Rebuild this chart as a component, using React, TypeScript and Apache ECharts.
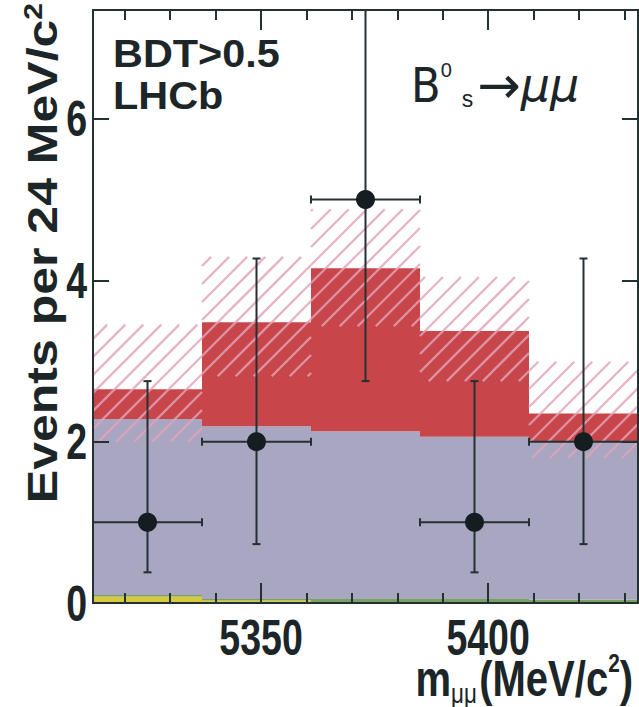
import React, { useEffect, useRef } from 'react';
import * as echarts from 'echarts';

// ---- data ----
const binLow = [5313, 5337, 5361, 5385, 5409];
const binHigh = [5337, 5361, 5385, 5409, 5433];
const binCenter = [5325, 5349, 5373, 5397, 5421];
const observed = [1, 2, 5, 1, 2];
const observedLow = [0.38, 0.73, 2.75, 0.38, 0.73];
const observedHigh = [2.75, 4.27, 7.6, 2.75, 4.27];
const peakingBkg = [0.08, 0.03, 0, 0, 0];
const misIdBkg = [0.02, 0.02, 0.05, 0.05, 0.04];
const combBkg = [2.18, 2.14, 2.08, 2.01, 1.96];
const signalExp = [0.37, 1.29, 2.02, 1.31, 0.35];
const bandLow = [2.0, 2.81, 3.43, 2.75, 1.8];
const bandHigh = [3.45, 4.29, 4.88, 4.04, 2.99];
const xTickLabels = [5350, 5400];
const yTickLabels = [0, 2, 4, 6];
const xMin = 5313;
const xMax = 5433;
const yMax = 7.35;
const yTickInterval = 2;

// ---- styles ----
const FRAME = '#243032';
const TEXT = '#1c2527';
const C_YELLOW = '#d6c93c';
const C_GREEN = '#78a262';
const C_PURPLE = '#a8a6c0';
const C_RED = '#c8464a';
const C_HATCH = 'rgba(226,164,184,0.82)';
const SANS = "'Liberation Sans', Arial, sans-serif";
const LABEL_FONT = `bold 50px ${SANS}`;
const LABEL_SCALE = 0.75;

export default function App() {
  const ref = useRef<HTMLDivElement>(null);
  useEffect(() => {
    if (!ref.current) return;
    const chart = echarts.init(ref.current, null, { renderer: 'svg' });

    const axisLineStyle = { color: FRAME, width: 2 };
    const xAxisBase = {
      type: 'value',
      min: xMin,
      max: xMax,
      splitNumber: 3,
      z: 3,
      axisLine: { show: true, onZero: false, lineStyle: axisLineStyle },
      axisTick: { show: true, inside: true, length: 20, lineStyle: axisLineStyle },
      minorTick: { show: true, splitNumber: 5, length: 10, lineStyle: axisLineStyle },
      splitLine: { show: false },
      minorSplitLine: { show: false },
      axisLabel: { show: false },
    };
    const yAxisBase = {
      type: 'value',
      min: 0,
      max: yMax,
      interval: yTickInterval,
      z: 3,
      axisLine: { show: true, onZero: false, lineStyle: axisLineStyle },
      axisTick: { show: true, inside: true, length: 16, lineStyle: axisLineStyle },
      minorTick: { show: false },
      splitLine: { show: false },
      axisLabel: { show: false },
    };

    const stackData = binLow.map((_, i) => [
      binLow[i], binHigh[i], peakingBkg[i], misIdBkg[i], combBkg[i], signalExp[i],
    ]);
    const bandData = binLow.map((_, i) => [binLow[i], binHigh[i], bandLow[i], bandHigh[i]]);
    const errData = binCenter.map((_, i) => [
      binCenter[i], observed[i], observedLow[i], observedHigh[i], binLow[i], binHigh[i],
    ]);
    const pointData = binCenter.map((c, i) => [c, observed[i]]);

    const option = {
      animation: false,
      backgroundColor: '#ffffff',
      grid: { left: 93, right: 1, top: 10, bottom: 104, outerBoundsMode: 'none' },
      xAxis: [
        { ...xAxisBase, position: 'bottom' },
        { ...xAxisBase, position: 'top' },
      ],
      yAxis: [
        { ...yAxisBase, position: 'left' },
        { ...yAxisBase, position: 'right' },
      ],
      series: [
        {
          type: 'custom',
          name: 'stack',
          z: 1,
          clip: true,
          data: stackData,
          encode: { x: [0, 1], y: [2] },
          renderItem: (params: any, api: any) => {
            const xa = api.coord([api.value(0), 0])[0];
            const xb = api.coord([api.value(1), 0])[0];
            const parts = [api.value(2), api.value(3), api.value(4), api.value(5)];
            const cols = [C_YELLOW, C_GREEN, C_PURPLE, C_RED];
            const children: any[] = [];
            let base = 0;
            for (let k = 0; k < parts.length; k++) {
              const top = base + parts[k];
              if (parts[k] > 0) {
                const y0 = api.coord([0, base])[1];
                const y1 = api.coord([0, top])[1];
                children.push({
                  type: 'rect',
                  shape: { x: xa, y: y1, width: xb - xa, height: y0 - y1 },
                  style: { fill: cols[k] },
                });
              }
              base = top;
            }
            return { type: 'group', children };
          },
        },
        {
          type: 'custom',
          name: 'uncertainty',
          z: 2,
          clip: true,
          data: bandData,
          encode: { x: [0, 1], y: [2, 3] },
          renderItem: (params: any, api: any) => {
            const x0 = api.coord([api.value(0), 0])[0];
            const x1 = api.coord([api.value(1), 0])[0];
            const yB = api.coord([0, api.value(2)])[1];
            const yT = api.coord([0, api.value(3)])[1];
            const step = 18;
            const children: any[] = [];
            const cStart = Math.ceil((x0 + yT) / step) * step;
            for (let c = cStart; c <= x1 + yB; c += step) {
              const xa = Math.max(x0, c - yB);
              const xb = Math.min(x1, c - yT);
              if (xb > xa + 0.5) {
                children.push({
                  type: 'line',
                  shape: { x1: xa, y1: c - xa, x2: xb, y2: c - xb },
                  style: { stroke: C_HATCH, lineWidth: 2.3 },
                });
              }
            }
            return { type: 'group', children };
          },
        },
        {
          type: 'custom',
          name: 'errors',
          z: 4,
          clip: true,
          data: errData,
          encode: { x: [0, 4, 5], y: [1, 2, 3] },
          renderItem: (params: any, api: any) => {
            const c = api.coord([api.value(0), api.value(1)]);
            const lo = api.coord([api.value(0), api.value(2)]);
            const hi = api.coord([api.value(0), api.value(3)]);
            const le = api.coord([api.value(4), api.value(1)]);
            const re = api.coord([api.value(5), api.value(1)]);
            const st = { stroke: FRAME, lineWidth: 2 };
            const cap = 4;
            return {
              type: 'group',
              children: [
                { type: 'line', shape: { x1: c[0], y1: lo[1], x2: c[0], y2: hi[1] }, style: st },
                { type: 'line', shape: { x1: le[0], y1: c[1], x2: re[0], y2: c[1] }, style: st },
                { type: 'line', shape: { x1: c[0] - cap, y1: lo[1], x2: c[0] + cap, y2: lo[1] }, style: st },
                { type: 'line', shape: { x1: c[0] - cap, y1: hi[1], x2: c[0] + cap, y2: hi[1] }, style: st },
                { type: 'line', shape: { x1: le[0], y1: c[1] - cap, x2: le[0], y2: c[1] + cap }, style: st },
                { type: 'line', shape: { x1: re[0], y1: c[1] - cap, x2: re[0], y2: c[1] + cap }, style: st },
              ],
            };
          },
        },
        {
          type: 'scatter',
          name: 'data',
          z: 5,
          symbol: 'circle',
          symbolSize: 19,
          itemStyle: { color: '#141e20', opacity: 1 },
          data: pointData,
        },
      ],
    };

    chart.setOption(option as any);

    // tick labels placed through the axes' own scales
    const xLabelY = 637;
    const tickTexts: any[] = [];
    xTickLabels.forEach((v) => {
      const px = chart.convertToPixel({ xAxisIndex: 0 }, v) as number;
      tickTexts.push({
        type: 'text',
        x: px,
        y: xLabelY,
        scaleX: LABEL_SCALE,
        z: 10,
        style: {
          text: String(v),
          fill: TEXT,
          font: LABEL_FONT,
          lineHeight: 34,
          align: 'center',
          verticalAlign: 'middle',
          textAlign: 'center',
          textVerticalAlign: 'middle',
        },
      });
    });
    yTickLabels.forEach((v) => {
      const py = chart.convertToPixel({ yAxisIndex: 0 }, v) as number;
      tickTexts.push({
        type: 'text',
        x: 87,
        y: py,
        scaleX: LABEL_SCALE,
        z: 10,
        style: {
          text: String(v),
          fill: TEXT,
          font: LABEL_FONT,
          lineHeight: 34,
          align: 'right',
          verticalAlign: 'middle',
          textAlign: 'right',
          textVerticalAlign: 'middle',
        },
      });
    });

    const graphic = [
      ...tickTexts,
      {
        type: 'text',
        x: 113,
        y: 74.5,
        z: 10,
        scaleX: 1.09,
        style: {
          text: 'BDT>0.5\nLHCb',
          fill: TEXT,
          font: `bold 38px ${SANS}`,
          lineHeight: 42.5,
          align: 'left',
          verticalAlign: 'middle',
          textAlign: 'left',
          textVerticalAlign: 'middle',
        },
      },
      {
        type: 'text',
        x: 411,
        y: 60,
        z: 10,
        style: {
          text: '{b|B}{sup|0}{sub|s}{arr|→}{mu|μμ}',
          fill: TEXT,
          align: 'left',
          verticalAlign: 'top',
          textAlign: 'left',
          textVerticalAlign: 'top',
          rich: {
            b: { fontFamily: "'DejaVu Sans Condensed', 'DejaVu Sans', sans-serif", fontSize: 48, lineHeight: 50, fill: TEXT },
            sup: { fontFamily: SANS, fontSize: 20, lineHeight: 22, verticalAlign: 'top', fill: TEXT },
            sub: { fontFamily: SANS, fontSize: 23, lineHeight: 22, verticalAlign: 'bottom', padding: [0, 4, 0, 10], fill: TEXT },
            arr: { fontFamily: "'DejaVu Sans', sans-serif", fontSize: 52, lineHeight: 50, fill: TEXT },
            mu: { fontFamily: "'DejaVu Sans', sans-serif", fontStyle: 'italic', fontSize: 46, lineHeight: 50, fill: TEXT },
          },
        },
      },
      {
        type: 'text',
        x: 633,
        y: 653,
        z: 10,
        scaleX: 0.8,
        style: {
          text: '{a|m}{sub|μμ}{a|(MeV/c}{sup|2}{a|)}',
          fill: TEXT,
          align: 'right',
          verticalAlign: 'top',
          textAlign: 'right',
          textVerticalAlign: 'top',
          rich: {
            a: { fontFamily: SANS, fontWeight: 'bold', fontSize: 50, lineHeight: 52, fill: TEXT },
            sub: { fontFamily: SANS, fontSize: 28, lineHeight: 4, verticalAlign: 'bottom', padding: [0, 3, -2, 0], fill: TEXT },
            sup: { fontFamily: SANS, fontWeight: 'bold', fontSize: 26, lineHeight: 20, verticalAlign: 'top', padding: [-3, 0, 0, 0], fill: TEXT },
          },
        },
      },
      {
        type: 'text',
        x: 42,
        y: 3,
        z: 10,
        rotation: Math.PI / 2,
        scaleY: 0.85,
        style: {
          text: '{a|Events per 24 MeV/c}{sup|2}',
          fill: TEXT,
          align: 'right',
          verticalAlign: 'middle',
          textAlign: 'right',
          textVerticalAlign: 'middle',
          rich: {
            a: { fontFamily: SANS, fontWeight: 'bold', fontSize: 50, lineHeight: 50, fill: TEXT },
            sup: { fontFamily: SANS, fontWeight: 'bold', fontSize: 30, lineHeight: 30, verticalAlign: 'top', fill: TEXT },
          },
        },
      },
    ];

    chart.setOption({ graphic } as any);
    return () => chart.dispose();
  }, []);

  return (
    <div
      ref={ref}
      style={{ position: 'fixed', left: 0, top: 0, width: 639, height: 707, background: '#fff' }}
    />
  );
}
